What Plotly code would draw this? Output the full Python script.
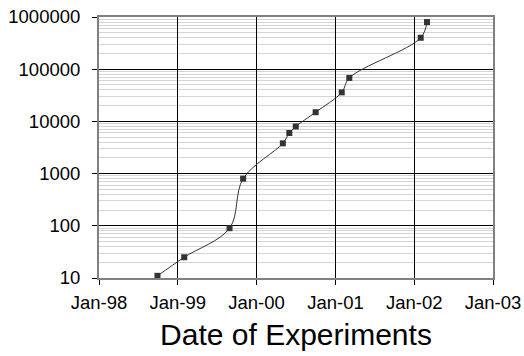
import plotly.graph_objects as go

# Experiment dates and the corresponding counts (log scale)
dates = [
    "1998-09-29", "1999-01-31", "1999-08-29", "1999-10-31",
    "2000-05-02", "2000-06-01", "2000-07-01", "2000-10-01",
    "2001-01-30", "2001-03-06", "2002-01-31", "2002-03-01",
]
counts = [11, 25, 90, 800, 3800, 6000, 8000, 15000, 36000, 68000, 400000, 800000]

x_tick_vals = ["1998-01-01", "1999-01-01", "2000-01-01", "2001-01-01", "2002-01-01", "2003-01-01"]
x_tick_text = ["Jan-98", "Jan-99", "Jan-00", "Jan-01", "Jan-02", "Jan-03"]
y_tick_vals = [10, 100, 1000, 10000, 100000, 1000000]
y_tick_text = ["10", "100", "1000", "10000", "100000", "1000000"]

FONT = "Liberation Sans"

fig = go.Figure()
fig.add_trace(go.Scatter(
    x=dates, y=counts,
    mode="lines+markers",
    line=dict(color="#333333", width=1, shape="spline", smoothing=1),
    marker=dict(symbol="square", size=6, color="#333333"),
    showlegend=False,
))

fig.update_layout(
    template="none",
    width=524, height=356,
    margin=dict(l=99, r=31, t=17, b=78, autoexpand=False),
    paper_bgcolor="white", plot_bgcolor="white",
    font=dict(family=FONT, color="black", size=18),
    xaxis=dict(
        type="date",
        automargin=False,
        range=["1998-01-01", "2003-01-01"],
        tickvals=x_tick_vals, ticktext=x_tick_text,
        showgrid=True, gridcolor="black", gridwidth=1,
        ticks="outside", ticklen=5, tickcolor="black",
        showline=True, linecolor="#808080", linewidth=2, mirror=True,
        zeroline=False,
        tickfont=dict(family=FONT, size=18.5),
        ticklabelstandoff=2,
        title=dict(text="Date of Experiments", font=dict(family=FONT, size=30), standoff=12),
    ),
    yaxis=dict(
        type="log",
        automargin=False,
        range=[1, 6],
        tickvals=y_tick_vals, ticktext=y_tick_text,
        showgrid=True, gridcolor="black", gridwidth=1,
        ticks="outside", ticklen=5, tickcolor="black",
        showline=True, linecolor="#808080", linewidth=2, mirror=True,
        zeroline=False,
        tickfont=dict(family=FONT, size=18.5),
        ticklabelstandoff=8,
        minor=dict(showgrid=True, gridcolor="#d4d4d4", gridwidth=1, dtick="D1", ticks=""),
    ),
)

fig.write_html("out.html")
